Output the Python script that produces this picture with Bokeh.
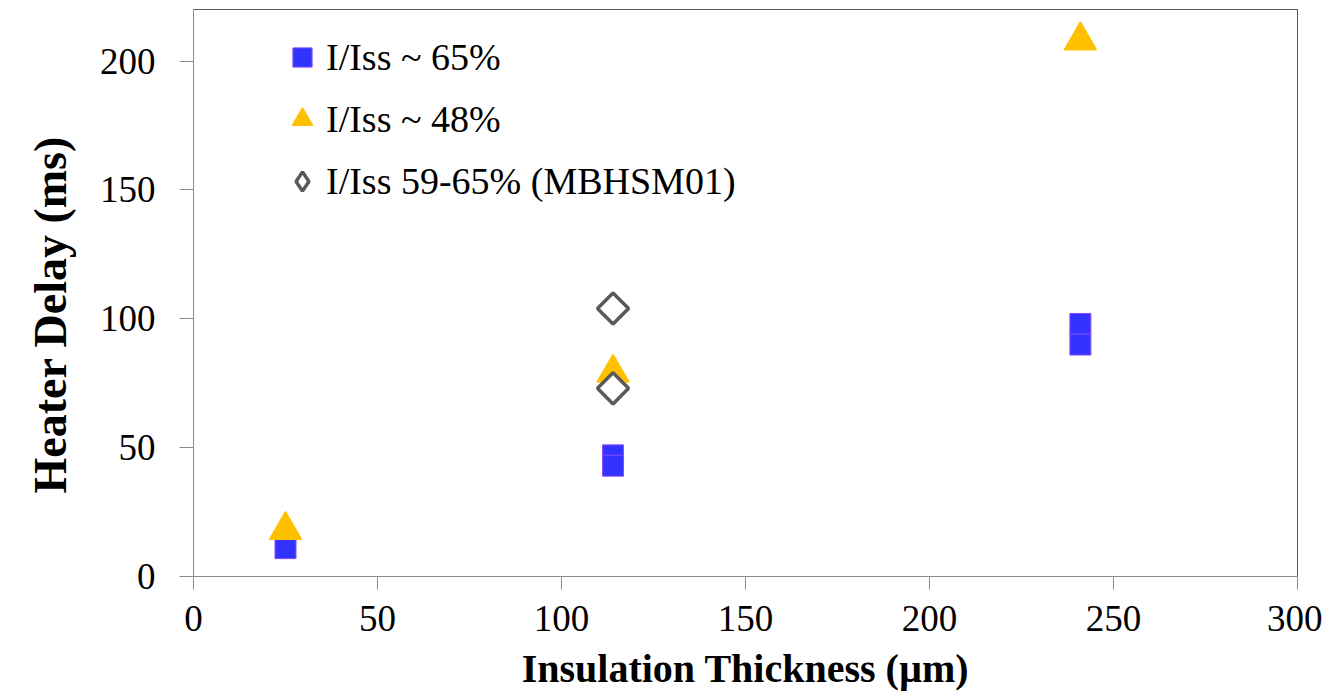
import math
from bokeh.plotting import figure
from bokeh.models import Range1d, Legend, LegendItem, FixedTicker, Title
from bokeh.embed import file_html
from bokeh.resources import INLINE

# ---- data ----
x_65 = [25, 114, 114, 241, 241]
y_65 = [11, 47, 43, 98, 90]
x_48 = [25, 114, 241]
y_48 = [18, 79, 208]
x_mb = [114, 114]
y_mb = [104, 73]
x_ticks = [0, 50, 100, 150, 200, 250, 300]
y_ticks = [0, 50, 100, 150, 200]
series_labels = ["I/Iss ~ 65%", "I/Iss ~ 48%", "I/Iss 59-65% (MBHSM01)"]
x_title = "Insulation Thickness (µm)"
y_title = "Heater Delay (ms)"

FONT = "Liberation Serif"

p = figure(frame_width=1104, frame_height=567,
           x_range=Range1d(0, 300), y_range=Range1d(0, 220),
           output_backend="svg", toolbar_location=None,
           min_border_left=193, min_border_right=25,
           min_border_top=9, min_border_bottom=124,
           background_fill_color="white", border_fill_color="white")

p.grid.visible = False
p.outline_line_color = "#595959"
p.outline_line_width = 1

for ax, ticks, tout, stand in ((p.xaxis, x_ticks, 13, 16), (p.yaxis, y_ticks, 14, 24)):
    ax.ticker = FixedTicker(ticks=ticks)
    ax.major_label_text_font = FONT
    ax.major_label_text_font_size = "37px"
    ax.major_label_text_color = "black"
    ax.minor_tick_line_color = None
    ax.major_tick_in = 0
    ax.major_tick_out = tout
    ax.major_tick_line_color = "#8c8c8c"
    ax.axis_line_color = "#8c8c8c"
    ax.major_label_standoff = stand
    ax.axis_label_text_font = FONT
    ax.axis_label_text_font_style = "bold"
    ax.axis_label_text_color = "black"

p.xaxis.axis_label = x_title
p.xaxis.axis_label_text_font_size = "40px"
p.xaxis.axis_label_standoff = 12

# y-axis title as a side title, shifted up from the frame bottom like the reference
ytitle = Title(text=y_title, align="left", offset=83, standoff=42,
               vertical_align="bottom",
               text_font=FONT, text_font_style="bold",
               text_font_size="46px", text_color="black")
p.add_layout(ytitle, "left")

r1 = p.scatter(x_65, y_65, marker="square", size=21,
               fill_color="#3333ff", line_color="#8a4dff", line_width=1)
r2 = p.scatter(x_48, y_48, marker="triangle", size=31,
               fill_color="#ffc000", line_color="#ffc000", line_width=2,
               line_join="round")
# diamond-shaped key for the legend (sits fully hidden under the markers below)
r3_key = p.scatter(x_mb, y_mb, marker="diamond", size=22,
                   fill_color="white", line_color="#595959", line_width=3.5)
r3 = p.scatter(x_mb, y_mb, marker="square", angle=math.pi / 4, size=22,
               fill_color="white", line_color="#595959", line_width=3.5)

legend = Legend(items=[LegendItem(label=series_labels[0], renderers=[r1]),
                       LegendItem(label=series_labels[1], renderers=[r2]),
                       LegendItem(label=series_labels[2], renderers=[r3_key])],
                location=(85, 365), glyph_width=48, glyph_height=60,
                spacing=2, padding=0, margin=0, label_standoff=0,
                border_line_color=None, background_fill_alpha=0,
                label_text_font=FONT, label_text_font_size="38px",
                label_text_color="black")
p.add_layout(legend)

open("out.html", "w").write(file_html(p, INLINE))
